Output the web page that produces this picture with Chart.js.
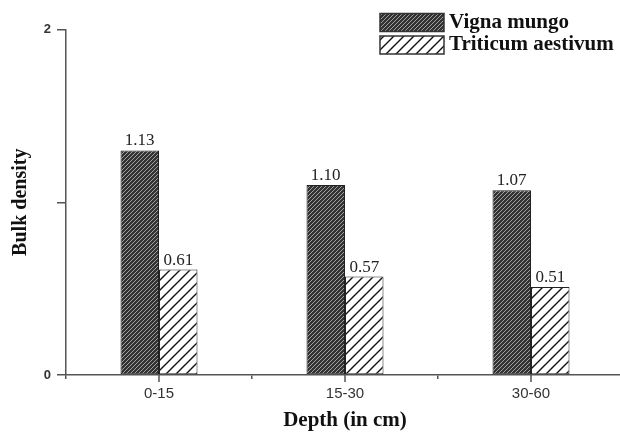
<!DOCTYPE html>
<html>
<head>
<meta charset="utf-8">
<script src="https://cdn.jsdelivr.net/npm/chart.js@4/dist/chart.umd.min.js"></script>
<style>
  html, body { margin: 0; padding: 0; background: #fff; overflow: hidden; }
</style>
</head>
<body>
<canvas id="chart" width="628" height="434"></canvas>
<script>
// data
const depths = ['0-15', '15-30', '30-60'];
const vignaMungo = [1.30, 1.10, 1.07];        // drawn bar heights
const triticumAestivum = [0.61, 0.57, 0.51];
const vignaLabels = ['1.13', '1.10', '1.07']; // printed values
const triticumLabels = ['0.61', '0.57', '0.51'];
const yTickLabels = { 0: '0', 2: '2' };

const serif = '"Liberation Serif", "Times New Roman", serif';
const sans = '"Liberation Sans", Arial, sans-serif';

// diagonal "/" hatch fill
function hatch(size, bg, fg, lw) {
  const c = document.createElement('canvas');
  c.width = size; c.height = size;
  const g = c.getContext('2d');
  g.fillStyle = bg;
  g.fillRect(0, 0, size, size);
  g.strokeStyle = fg;
  g.lineWidth = lw;
  g.beginPath();
  g.moveTo(0, size); g.lineTo(size, 0);
  g.moveTo(-1, 1); g.lineTo(1, -1);
  g.moveTo(size - 1, size + 1); g.lineTo(size + 1, size - 1);
  g.stroke();
  return g.createPattern(c, 'repeat');
}

const ctx = document.getElementById('chart').getContext('2d');
const densePattern = hatch(4, '#333', '#a0a0a0', 1);
const sparsePattern = hatch(10, '#fff', '#111', 1.4);

// legend drawn as stacked boxes inside the plot, top right
const boxLegend = {
  id: 'boxLegend',
  afterDraw(chart) {
    const c = chart.ctx;
    c.save();
    chart.data.datasets.forEach((ds, i) => {
      const y = 13.5 + i * 22.5;
      c.fillStyle = ds.backgroundColor;
      c.fillRect(380, y, 64, 18);
      c.strokeStyle = '#333';
      c.lineWidth = 1.5;
      c.strokeRect(380, y, 64, 18);
      c.fillStyle = '#111';
      c.font = 'bold 21px ' + serif;
      c.textBaseline = 'middle';
      c.textAlign = 'left';
      c.fillText(ds.label, 449, y + 9);
    });
    c.restore();
  }
};

// printed values above bars + ticks at category centres
const barText = {
  id: 'barText',
  afterDatasetsDraw(chart) {
    const c = chart.ctx;
    const texts = [vignaLabels, triticumLabels];
    c.save();
    c.font = '17px ' + serif;
    c.fillStyle = '#222';
    c.textAlign = 'center';
    c.textBaseline = 'alphabetic';
    texts.forEach((arr, i) => {
      chart.getDatasetMeta(i).data.forEach((bar, j) => {
        c.fillText(arr[j], bar.x, bar.y - 5);
      });
    });
    const x = chart.scales.x;
    const b = chart.chartArea.bottom;
    c.strokeStyle = '#555';
    c.lineWidth = 1.5;
    depths.forEach((d, j) => {
      const px = x.getPixelForValue(j);
      c.beginPath();
      c.moveTo(px, b);
      c.lineTo(px, b + 7);
      c.stroke();
    });
    c.restore();
  }
};

new Chart(ctx, {
  type: 'bar',
  data: {
    labels: depths,
    datasets: [
      {
        label: 'Vigna mungo',
        data: vignaMungo,
        backgroundColor: densePattern,
        borderColor: '#222',
        borderWidth: 1,
        borderSkipped: false
      },
      {
        label: 'Triticum aestivum',
        data: triticumAestivum,
        backgroundColor: sparsePattern,
        borderColor: '#222',
        borderWidth: 1,
        borderSkipped: false
      }
    ]
  },
  options: {
    responsive: false,
    animation: false,
    layout: { padding: { top: 29.5, right: 4, left: 0, bottom: 0 } },
    datasets: { bar: { barPercentage: 1, categoryPercentage: 0.414 } },
    plugins: {
      legend: { display: false },
      tooltip: { enabled: false }
    },
    scales: {
      x: {
        afterFit(scale) { scale.height = 59; },
        grid: {
          drawOnChartArea: false,
          drawTicks: true,
          tickLength: 4,
          offset: true,
          color: '#555',
          lineWidth: 1.5
        },
        border: { color: '#555', width: 1.5 },
        ticks: {
          color: '#333',
          font: { family: sans, size: 15 },
          padding: 6
        },
        title: {
          display: true,
          text: 'Depth (in cm)',
          color: '#111',
          font: { family: serif, size: 21, weight: 'bold' },
          padding: { top: 0, bottom: 1 }
        }
      },
      y: {
        min: 0,
        max: 2,
        afterFit(scale) { scale.width = 66; },
        grid: {
          drawOnChartArea: false,
          drawTicks: true,
          tickLength: 9,
          color: '#555',
          lineWidth: 1.5
        },
        border: { color: '#555', width: 1.5 },
        ticks: {
          stepSize: 1,
          color: '#333',
          font: { family: sans, size: 13, weight: 'bold' },
          padding: 6,
          callback: (v) => yTickLabels[v] ?? ''
        },
        title: {
          display: true,
          text: 'Bulk density',
          color: '#111',
          font: { family: serif, size: 20, weight: 'bold' },
          padding: { top: 9, bottom: 0 }
        }
      }
    }
  },
  plugins: [boxLegend, barText]
});
</script>
</body>
</html>
